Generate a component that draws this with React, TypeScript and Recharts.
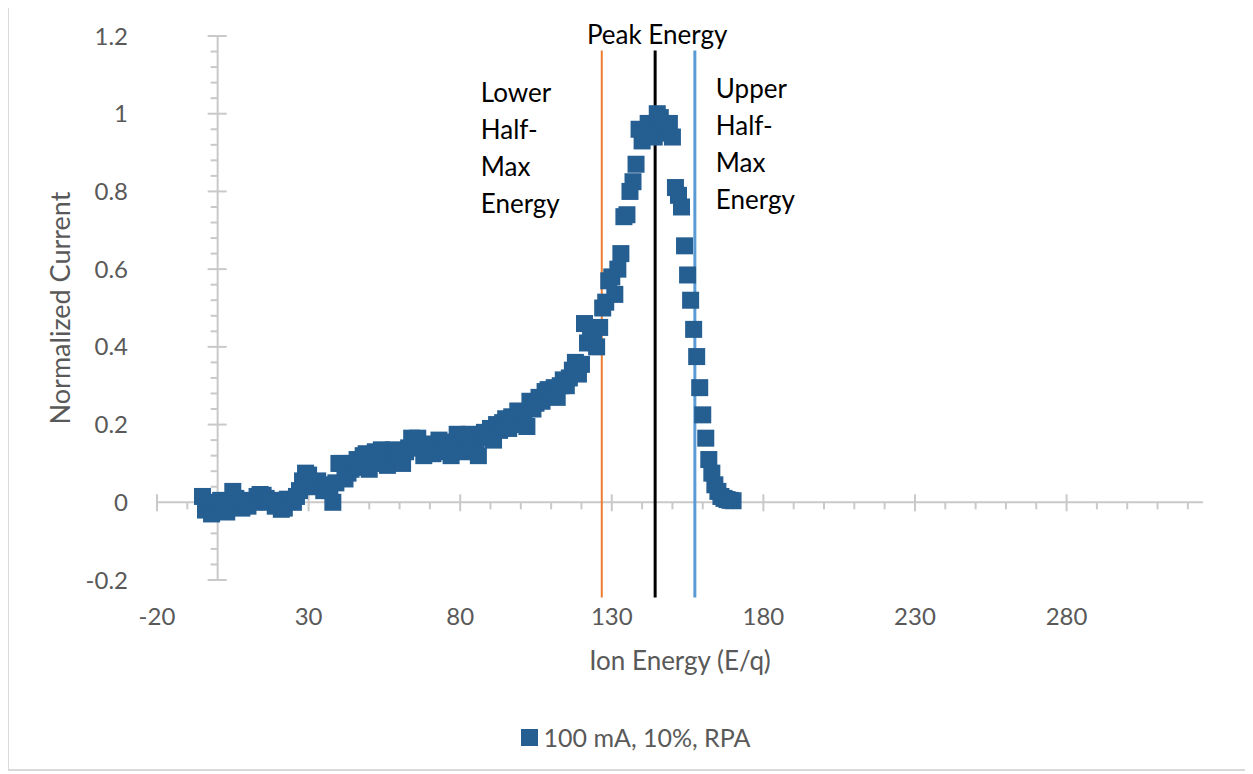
import { ScatterChart, Scatter, XAxis, YAxis, ReferenceLine, ReferenceDot, Legend } from 'recharts';

// ion energy (E/q) of each RPA sample
const energy = [
  -5, -4, -3, -2, -1, 0, 1, 2, 3, 4, 5, 6, 7, 8, 9, 10, 11, 12, 13, 14, 15, 16, 17, 18, 19, 20,
  21, 22, 23, 24, 25, 26, 27, 28, 29, 30, 31, 32, 33, 34, 35, 36, 37, 38, 39, 40, 41, 42, 43, 44, 45,
  46, 47, 48, 49, 50, 51, 52, 53, 54, 55, 56, 57, 58, 59, 60, 61, 62, 63, 64, 65, 66, 67, 68, 69, 70,
  71, 72, 73, 74, 75, 76, 77, 78, 79, 80, 81, 82, 83, 84, 85, 86, 87, 88, 89, 90, 91, 92, 93, 94, 95,
  96, 97, 98, 99, 100, 101, 102, 103, 104, 105, 106, 107, 108, 109, 110, 111, 112, 113, 114, 115,
  116, 117, 118, 119, 120, 121, 122, 123, 124, 125, 126, 127, 128, 129, 130, 131, 132, 133, 134, 135,
  136, 137, 138, 139, 140, 141, 142, 143, 144, 145, 146, 147, 148, 149, 150, 151, 152, 153, 154, 155,
  156, 157, 158, 159, 160, 161, 162, 163, 164, 165, 166, 167, 168, 169, 170,
];

// normalized collector current
const current = [
  0.015, -0.02, -0.01, -0.03, 0.0, -0.02, 0.005, -0.01, -0.025, 0.0, 0.028, 0.01, -0.005, -0.015, 0.0, -0.01,
  0.005, 0.0, 0.015, 0.02, 0.018, 0.01, 0.0, 0.005, -0.01, 0.0,
  -0.018, -0.015, 0.008, 0.005, 0.0, 0.015, 0.03, 0.055, 0.075, 0.07, 0.05, 0.04, 0.055, 0.045, 0.03,
  0.04, 0.03, 0.0, 0.05, 0.1, 0.1, 0.06, 0.075, 0.085, 0.1,
  0.11, 0.09, 0.12, 0.125, 0.085, 0.1, 0.13, 0.12, 0.135, 0.1, 0.095, 0.13, 0.135, 0.125, 0.115,
  0.1, 0.13, 0.14, 0.165, 0.15, 0.165, 0.14, 0.12, 0.15, 0.145,
  0.125, 0.14, 0.16, 0.15, 0.13, 0.155, 0.12, 0.14, 0.175, 0.17, 0.16, 0.13, 0.175, 0.16, 0.14,
  0.12, 0.165, 0.18, 0.175, 0.19, 0.16, 0.2, 0.185, 0.205, 0.215,
  0.19, 0.22, 0.2, 0.235, 0.22, 0.21, 0.195, 0.26, 0.24, 0.255, 0.27, 0.26, 0.285, 0.29, 0.28,
  0.295, 0.27, 0.3, 0.315, 0.3, 0.32, 0.34, 0.36, 0.33, 0.355,
  0.46, 0.41, 0.42, 0.44, 0.4, 0.45, 0.5, 0.515, 0.57, 0.58, 0.535, 0.6, 0.64, 0.735, 0.74,
  0.8, 0.825, 0.87, 0.96, 0.93, 0.95, 0.975, 0.97, 0.94, 1.0, 0.99, 0.97, 0.95, 0.975, 0.94,
  0.81, 0.79, 0.76, 0.66, 0.585, 0.52, 0.445, 0.375, 0.295, 0.225, 0.165, 0.11, 0.075, 0.045, 0.028,
  0.015, 0.01, 0.007, 0.005, 0.004,
];

const xTicks = [-20, 30, 80, 130, 180, 230, 280];
const yTicks = [-0.2, 0, 0.2, 0.4, 0.6, 0.8, 1, 1.2];
const xMinor = [-10, 0, 10, 20, 40, 50, 60, 70, 90, 100, 110, 120, 140, 150, 160, 170, 190, 200, 210, 220, 240, 250, 260, 270, 290, 300, 310, 320];
const yMinor = [-0.16, -0.12, -0.08, -0.04, 0.04, 0.08, 0.12, 0.16, 0.24, 0.28, 0.32, 0.36, 0.44, 0.48, 0.52, 0.56,
  0.64, 0.68, 0.72, 0.76, 0.84, 0.88, 0.92, 0.96, 1.04, 1.08, 1.12, 1.16];

// marker lines: lower half-max, peak, upper half-max
const lowerHalfMax = 126.7;
const peakEnergy = 144.3;
const upperHalfMax = 157.4;
const markerSpan = [-0.245, 1.163];

const seriesName = '100 mA, 10%, RPA';

const data = energy.map((e, i) => ({ e, c: current[i] }));

const BLUE = '#255E91';
const AXIS = '#c9c9c9';
const LABEL = '#595959';

const square = (p: any) => <rect x={p.cx - 8.5} y={p.cy - 8.5} width={17} height={17} fill={BLUE} />;

const mark = (x1: number, y1: number, x2: number, y2: number) => (p: any) => (
  <line x1={p.cx + x1} y1={p.cy + y1} x2={p.cx + x2} y2={p.cy + y2} stroke={AXIS} strokeWidth={2} />
);

const words = (lines: string[], dx: number, dy: number, anchor = 'start') => (p: any) => (
  <text x={p.cx + dx} y={p.cy + dy} fontSize={26} fill="#000" textAnchor={anchor}>
    {lines.map((l, i) => (
      <tspan key={i} x={p.cx + dx} dy={i === 0 ? 0 : 37}>{l}</tspan>
    ))}
  </text>
);

export default function App() {
  return (
    <div
      style={{
        position: 'relative',
        marginLeft: -1,
        marginTop: -3,
        width: 1242,
        height: 766,
        border: '2px solid #d9d9d9',
        boxSizing: 'border-box',
        fontFamily: 'Lato, sans-serif',
        background: '#fff',
      }}
    >
      <ScatterChart width={1238} height={762} margin={{ top: 29, right: 44, left: 38, bottom: 99 }}>
        <XAxis
          type="number"
          dataKey="e"
          domain={[-20, 325]}
          ticks={xTicks}
          allowDataOverflow
          axisLine={false}
          tickLine={false}
          tickSize={0}
          tickMargin={28}
          height={90}
          tick={{ fill: LABEL, fontSize: 24 }}
          label={{ value: 'Ion Energy (E/q)', position: 'insideBottom', offset: 0, fill: LABEL, fontSize: 26 }}
        />
        <YAxis
          type="number"
          dataKey="c"
          domain={[-0.2, 1.2]}
          ticks={yTicks}
          allowDataOverflow
          axisLine={false}
          tickLine={false}
          tickSize={0}
          tickMargin={29}
          width={110}
          tick={{ fill: LABEL, fontSize: 24 }}
          label={{
            value: 'Normalized Current',
            angle: -90,
            position: 'insideLeft',
            offset: 13,
            fill: LABEL,
            fontSize: 27,
            style: { textAnchor: 'middle' },
          }}
        />
        <ReferenceLine y={0} stroke={AXIS} strokeWidth={2} />
        <ReferenceLine x={0} stroke={AXIS} strokeWidth={2} />
        {xTicks.map((t) => (
          <ReferenceDot key={'xt' + t} x={t} y={0} r={1} shape={mark(0, -8, 0, 9)} />
        ))}
        {xMinor.map((t) => (
          <ReferenceDot key={'xm' + t} x={t} y={0} r={1} shape={mark(0, 0, 0, 7)} />
        ))}
        {yTicks.map((t) => (
          <ReferenceDot key={'yt' + t} x={0} y={t} r={1} shape={mark(-10, 0, 9, 0)} />
        ))}
        {yMinor.map((t) => (
          <ReferenceDot key={'ym' + t} x={0} y={t} r={1} shape={mark(-7, 0, 0, 0)} />
        ))}
        <Scatter name={seriesName} data={data} shape={square} isAnimationActive={false} />
        <ReferenceLine
          segment={[{ x: lowerHalfMax, y: markerSpan[0] }, { x: lowerHalfMax, y: markerSpan[1] }]}
          stroke="#ED7D31"
          strokeWidth={2}
          ifOverflow="visible"
        />
        <ReferenceLine
          segment={[{ x: peakEnergy, y: markerSpan[0] }, { x: peakEnergy, y: markerSpan[1] }]}
          stroke="#000"
          strokeWidth={3}
          ifOverflow="visible"
        />
        <ReferenceLine
          segment={[{ x: upperHalfMax, y: markerSpan[0] }, { x: upperHalfMax, y: markerSpan[1] }]}
          stroke="#5B9BD5"
          strokeWidth={3}
          ifOverflow="visible"
        />
        <ReferenceDot x={peakEnergy} y={markerSpan[1]} r={1} shape={words(['Peak Energy'], 2, -6, 'middle')} />
        <ReferenceDot x={lowerHalfMax} y={markerSpan[1]} r={1} shape={words(['Lower', 'Half-', 'Max', 'Energy'], -121, 52)} />
        <ReferenceDot x={upperHalfMax} y={markerSpan[1]} r={1} shape={words(['Upper', 'Half-', 'Max', 'Energy'], 21, 48)} />
        <Legend
          verticalAlign="middle"
          align="center"
          layout="horizontal"
          wrapperStyle={{ top: 715, left: 0, width: 1238 }}
          content={() => (
            <div
              style={{
                display: 'flex',
                justifyContent: 'center',
                alignItems: 'center',
                paddingLeft: 15,
                height: 30,
              }}
            >
              <span style={{ width: 17, height: 17, background: BLUE, marginRight: 6, display: 'inline-block' }} />
              <span style={{ fontSize: 25, color: LABEL }}>{seriesName}</span>
            </div>
          )}
        />
      </ScatterChart>
    </div>
  );
}
